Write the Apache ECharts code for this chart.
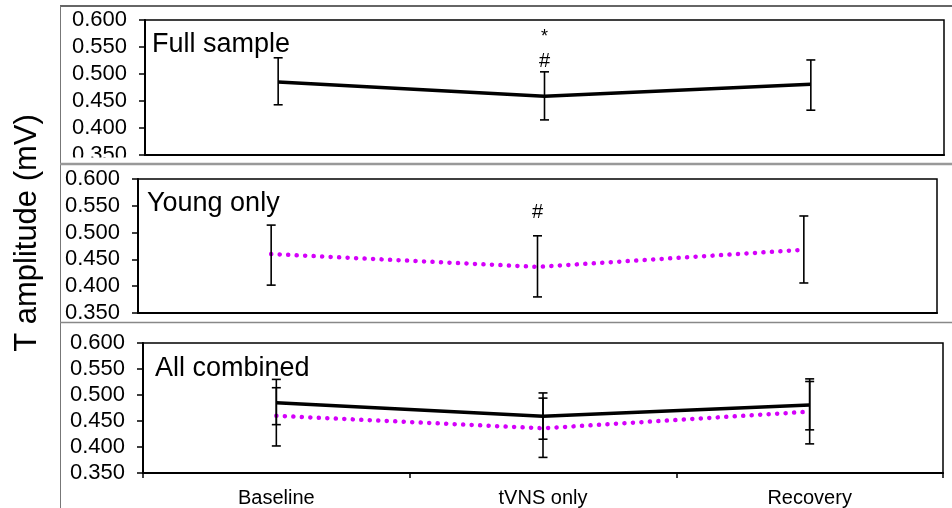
<!DOCTYPE html>
<html>
<head>
<meta charset="utf-8">
<script src="https://cdn.jsdelivr.net/npm/echarts@6/dist/echarts.min.js"></script>
<style>
html,body{margin:0;padding:0;background:#fff;}
#c{width:952px;height:508px;}
</style>
</head>
<body>
<div id="c"></div>
<script>
// ---- data ----
const categories = ['Baseline', 'tVNS only', 'Recovery'];
const fullMean = [0.485, 0.459, 0.481];
const fullLow = [0.443, 0.415, 0.433];
const fullHigh = [0.530, 0.504, 0.526];
const youngMean = [0.460, 0.436, 0.468];
const youngLow = [0.402, 0.380, 0.406];
const youngHigh = [0.514, 0.494, 0.531];
const yMin = 0.35;
const yMax = 0.60;
const yStep = 0.05;
const panelTitles = ['Full sample', 'Young only', 'All combined'];
const annoPanel = [0, 0, 1];
const annoCat = [1, 1, 1];
const annoValue = [0.5685, 0.524, 0.538];
const annoText = ['*', '#', '#'];
const yAxisTitle = 'T amplitude (mV)';

// ---- layout ----
const FONT = '"Liberation Sans", Arial, sans-serif';
const MAGENTA = '#d400fa';
const grids = [
  {left: 145, top: 20, width: 799, height: 135},
  {left: 138, top: 179, width: 799, height: 134},
  {left: 143, top: 343, width: 800, height: 130}
];
const titlePos = [[152, 45], [147, 204], [155, 369]];

const chart = echarts.init(document.getElementById('c'), null, {renderer: 'canvas'});

function errorBars(ai, low, high) {
  return {
    type: 'custom', xAxisIndex: ai, yAxisIndex: ai, z: 5, silent: true,
    data: low.map((l, i) => [i, l, high[i]]),
    encode: {x: 0, y: [1, 2]},
    renderItem: function (p, api) {
      const lo = api.coord([api.value(0), api.value(1)]);
      const hi = api.coord([api.value(0), api.value(2)]);
      const hw = 4.5;
      const st = {stroke: '#000', lineWidth: 1.6};
      return {type: 'group', children: [
        {type: 'line', shape: {x1: lo[0], y1: lo[1], x2: hi[0], y2: hi[1]}, style: st},
        {type: 'line', shape: {x1: lo[0] - hw, y1: lo[1], x2: lo[0] + hw, y2: lo[1]}, style: st},
        {type: 'line', shape: {x1: hi[0] - hw, y1: hi[1], x2: hi[0] + hw, y2: hi[1]}, style: st}
      ]};
    }
  };
}
function blackLine(ai, data) {
  return {type: 'line', xAxisIndex: ai, yAxisIndex: ai, data: data, symbol: 'none', z: 4,
    lineStyle: {color: '#000', width: 3.5}, silent: true, animation: false};
}
function dotLine(ai, data) {
  return {type: 'line', xAxisIndex: ai, yAxisIndex: ai, data: data, symbol: 'none', z: 3,
    lineStyle: {color: MAGENTA, width: 4.5, type: [0.1, 8.4], cap: 'round'}, silent: true, animation: false};
}
function annoSeries(panel) {
  const d = [];
  annoPanel.forEach((p, i) => { if (p === panel) d.push([annoCat[i], annoValue[i], annoText[i]]); });
  return {
    type: 'custom', xAxisIndex: panel, yAxisIndex: panel, z: 6, silent: true,
    data: d, encode: {x: 0, y: 1},
    renderItem: function (p, api) {
      const pt = api.coord([api.value(0), api.value(1)]);
      const txt = d[p.dataIndex][2];
      return {type: 'text', x: pt[0], y: pt[1], style: {text: txt, fill: '#000',
        font: (txt === '*' ? '18px ' : '20px ') + FONT, align: 'center', verticalAlign: 'middle'}};
    }
  };
}

const xAxes = grids.map((g, i) => ({
  type: 'category', gridIndex: i, data: categories, boundaryGap: true,
  axisLine: {show: true, lineStyle: {color: '#000', width: 2}},
  axisTick: {show: i === 2, length: 5, interval: 0, lineStyle: {color: '#000', width: 1.5}},
  axisLabel: {show: i === 2, fontFamily: FONT, fontSize: 20, color: '#000', margin: 15, interval: 0},
  splitLine: {show: false}
}));
const yAxes = grids.map((g, i) => ({
  type: 'value', gridIndex: i, min: yMin, max: yMax, interval: yStep,
  axisLine: {show: true, lineStyle: {color: '#000', width: 2}},
  axisTick: {show: true, length: 6, lineStyle: {color: '#000', width: 1.5}},
  axisLabel: {fontFamily: FONT, fontSize: 22, color: '#000', margin: 18,
    formatter: v => v.toFixed(3)},
  splitLine: {show: false}
}));

const graphic = [
  {type: 'line', shape: {x1: 60, y1: 6, x2: 952, y2: 6}, style: {stroke: '#333', lineWidth: 1.5}, z: 100},
  {type: 'line', shape: {x1: 60.5, y1: 6, x2: 60.5, y2: 508}, style: {stroke: '#777', lineWidth: 1}, z: 100},
  {type: 'rect', shape: {x: 62, y: 157.5, width: 78, height: 6}, style: {fill: '#fff'}, z: 99},
  {type: 'line', shape: {x1: 60, y1: 164, x2: 952, y2: 164}, style: {stroke: '#999', lineWidth: 2.5}, z: 100},
  {type: 'line', shape: {x1: 60, y1: 322.5, x2: 952, y2: 322.5}, style: {stroke: '#888', lineWidth: 1.5}, z: 100},
  {type: 'text', x: 27, y: 233, rotation: Math.PI / 2,
    style: {text: yAxisTitle, font: '31px ' + FONT, fill: '#000', align: 'center', verticalAlign: 'middle'}, z: 100}
];
panelTitles.forEach((t, i) => {
  graphic.push({type: 'text', x: titlePos[i][0], y: titlePos[i][1],
    style: {text: t, font: '27px ' + FONT, fill: '#000', align: 'left', verticalAlign: 'middle'}, z: 100});
});

chart.setOption({
  animation: false,
  backgroundColor: '#fff',
  grid: grids.map(g => Object.assign({show: true, borderColor: '#000', borderWidth: 1.5,
    backgroundColor: 'transparent', containLabel: false}, g)),
  xAxis: xAxes,
  yAxis: yAxes,
  series: [
    blackLine(0, fullMean), errorBars(0, fullLow, fullHigh), annoSeries(0),
    dotLine(1, youngMean), errorBars(1, youngLow, youngHigh), annoSeries(1),
    dotLine(2, youngMean), blackLine(2, fullMean),
    errorBars(2, fullLow, fullHigh), errorBars(2, youngLow, youngHigh)
  ],
  graphic: graphic
});
</script>
</body>
</html>
